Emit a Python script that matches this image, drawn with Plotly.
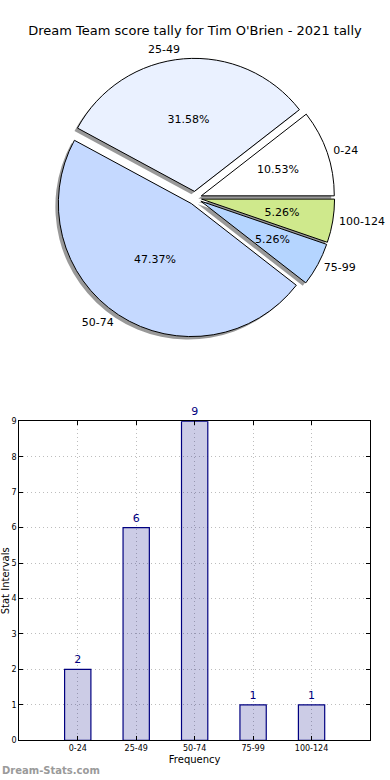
import plotly.graph_objects as go

# ---- data ----
categories = ["0-24", "25-49", "50-74", "75-99", "100-124"]
counts = [2, 6, 9, 1, 1]
slice_colors = ["#ffffff", "#eaf1ff", "#c5d9ff", "#b5d5ff", "#cfe98c"]
pull_amount = [0.05, 0.05, 0.05, 0.05, 0.05]
y_ticks = [0, 1, 2, 3, 4, 5, 6, 7, 8, 9]

title_text = "Dream Team score tally for Tim O'Brien - 2021 tally"

W, H = 390, 780
FONT = "DejaVu Sans"

def px_x(p):
    return p / W

def px_y(p):
    return 1 - p / H

total = sum(counts)
shares = [c / total for c in counts]

# first slice starts at 3 o'clock and runs counter-clockwise (matplotlib style)
start_rot = 90 - 360.0 * shares[0]

cx, cy = 195, 198          # pie centre (px)
R = 133                    # pie radius (px)
max_pull = max(pull_amount)

def pie_domain(radius, dx=0, dy=0):
    half = radius * (1 + max_pull)
    return dict(x=[px_x(cx + dx - half), px_x(cx + dx + half)],
                y=[px_y(cy + dy + half), px_y(cy + dy - half)])

fig = go.Figure()

pie_common = dict(labels=categories, values=counts, sort=False,
                  direction="counterclockwise", rotation=start_rot, pull=pull_amount,
                  showlegend=False, automargin=False)
clear = ["rgba(0,0,0,0)"] * len(counts)

# shadow (offset left / down)
fig.add_trace(go.Pie(
    marker=dict(colors=["rgba(0,0,0,0.4)"] * len(counts), line=dict(width=0)),
    textinfo="none", hoverinfo="skip",
    domain=pie_domain(R, dx=-3, dy=3), **pie_common,
))

# main pie; percentages of the large slices
fig.add_trace(go.Pie(
    marker=dict(colors=slice_colors, line=dict(color="#000000", width=1)),
    texttemplate=["%{percent:.2%}" if s >= 0.2 else "" for s in shares],
    textposition="inside", insidetextorientation="horizontal",
    textfont=dict(family=FONT, size=11, color="#000000"),
    domain=pie_domain(R), **pie_common,
))

# percentages of the narrower slices, on smaller transparent pies so that
# they sit closer to the centre (as matplotlib's pctdistance does)
for lo, hi, rr in [(0.08, 0.2, 109), (0.0, 0.08, 97)]:
    fig.add_trace(go.Pie(
        marker=dict(colors=clear, line=dict(width=0)),
        texttemplate=["%{percent:.2%}" if lo <= s < hi else "" for s in shares],
        textposition="inside", insidetextorientation="horizontal",
        textfont=dict(family=FONT, size=11, color="#000000"),
        hoverinfo="skip",
        domain=pie_domain(rr), **pie_common,
    ))

# outside category labels
fig.add_trace(go.Pie(
    marker=dict(colors=clear, line=dict(width=0)),
    texttemplate="%{label}", textposition="outside",
    outsidetextfont=dict(family=FONT, size=11, color="#000000"),
    hoverinfo="skip",
    domain=pie_domain(R + 3), **pie_common,
))

# bar chart
fig.add_trace(go.Bar(
    x=categories, y=counts, width=0.45,
    marker=dict(color="rgba(0,0,128,0.2)", line=dict(color="#000080", width=1.2)),
    text=[str(v) for v in counts], textposition="outside",
    textfont=dict(family=FONT, size=11, color="#000080"),
    cliponaxis=False, showlegend=False,
    xaxis="x", yaxis="y",
))

axis_common = dict(
    showline=True, linecolor="#000000", linewidth=1, mirror="ticks",
    showgrid=True, gridcolor="#bdbdbd", griddash="1px,3px", gridwidth=1,
    zeroline=False, ticks="inside", ticklen=4, tickcolor="#000000",
    tickfont=dict(family=FONT, size=8, color="#000000"),
)

fig.update_layout(
    width=W, height=H, autosize=False,
    margin=dict(l=0, r=0, t=0, b=0, pad=0),
    paper_bgcolor="#ffffff", plot_bgcolor="#ffffff",
    font=dict(family=FONT, color="#000000"),
    uniformtext=dict(minsize=11, mode="show"),
    title=dict(text=title_text, x=0.5, xanchor="center", y=px_y(30), yanchor="middle",
               font=dict(family=FONT, size=13, color="#000000")),
    xaxis=dict(domain=[px_x(19.3), px_x(370)], range=[-1, 5], anchor="y",
               title=dict(text="Frequency", font=dict(family=FONT, size=10), standoff=4),
               automargin=False, **axis_common),
    yaxis=dict(domain=[px_y(740.3), px_y(421.3)], range=[0, 9], anchor="x",
               tickvals=y_ticks,
               title=dict(text="Stat Intervals", font=dict(family=FONT, size=10), standoff=2),
               automargin=False, **axis_common),
    annotations=[dict(text="<b>Dream-Stats.com</b>", x=0, y=px_y(770), xref="paper", yref="paper",
                      xanchor="left", yanchor="middle", showarrow=False,
                      font=dict(family=FONT, size=10, color="#9a9a9a"))],
)

fig.write_html("out.html",
               config={"displayModeBar": False, "responsive": False},
               post_script="document.body.style.margin='0';document.body.style.overflow='hidden';")
